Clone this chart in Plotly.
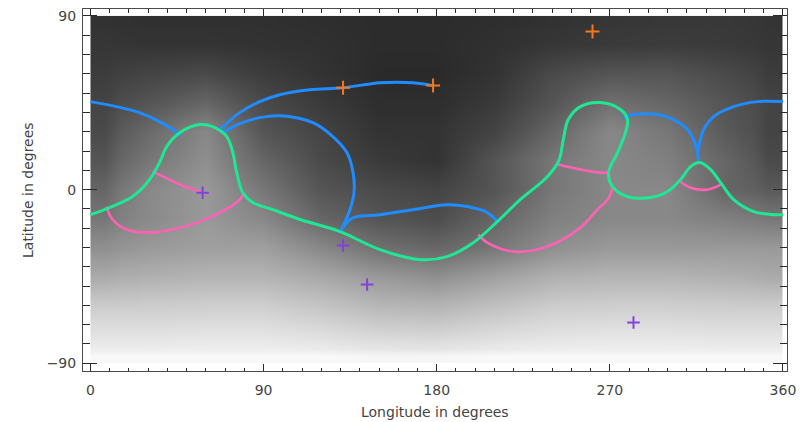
import plotly.graph_objects as go

# ---- background field (grey level 0-255), rows from north (90) to south (-90) ----
grid_lons = [0, 30, 60, 90, 120, 150, 180, 210, 240, 270, 300, 330, 360]
grid_lats = [90, 75, 60, 45, 30, 15, 0, -15, -30, -45, -60, -75, -90]
field = [
    [50, 48, 48, 48, 46, 44, 44, 46, 50, 54, 56, 56, 52],
    [54, 52, 52, 50, 48, 44, 44, 48, 54, 58, 60, 58, 54],
    [60, 68, 74, 60, 51, 42, 42, 51, 74, 85, 85, 74, 60],
    [68, 85, 102, 74, 58, 46, 46, 58, 85, 112, 102, 85, 68],
    [74, 106, 136, 85, 68, 51, 51, 68, 102, 136, 119, 90, 68],
    [85, 119, 143, 102, 74, 58, 51, 85, 119, 136, 128, 102, 74],
    [102, 136, 153, 119, 85, 74, 68, 85, 119, 136, 136, 102, 90],
    [119, 138, 153, 136, 102, 85, 77, 102, 128, 136, 136, 128, 119],
    [143, 153, 159, 159, 136, 112, 102, 119, 143, 153, 153, 153, 153],
    [170, 176, 180, 180, 168, 153, 143, 160, 176, 180, 180, 176, 170],
    [204, 204, 206, 206, 196, 182, 180, 192, 204, 206, 206, 204, 204],
    [226, 226, 228, 228, 222, 214, 212, 220, 226, 228, 228, 226, 226],
    [248, 248, 248, 248, 248, 246, 246, 248, 248, 248, 248, 248, 248],
]

# ---- open field lines (blue) ----
blue_west_lon = [0, 13.5, 25.5, 35.9, 44.8, 46.4]
blue_west_lat = [45.6, 43, 39.9, 35.2, 29.5, 27.5]
blue_north_lon = [67.2, 77.6, 88, 98.4, 114, 131.3, 150.5, 167.7, 178.1]
blue_north_lat = [31.1, 39.9, 45.6, 49.2, 51.8, 52.8, 55.4, 55.4, 53.9]
blue_loop_lon = [68.8, 77.6, 88, 98.4, 115.6, 126, 133.3, 136.5, 137, 134.9, 132.3, 130.2]
blue_loop_lat = [29.5, 34.2, 37.3, 38.3, 34.7, 27.5, 19.2, 8.8, -1.6, -10.4, -16.6, -21.2]
blue_south_lon = [130.2, 134.9, 138.5, 150.5, 167.7, 185.4, 195.8, 206.3, 212]
blue_south_lat = [-21.2, -15.5, -14, -13, -10.4, -7.8, -8.8, -11.9, -17.1]
blue_east_loop_lon = [276.6, 282.3, 294.8, 303.1, 310.4, 313.5, 315.6, 316.1]
blue_east_loop_lat = [37.3, 38.9, 38.9, 36.3, 31.1, 25.9, 19.2, 14]
blue_east_lon = [315.6, 318.8, 324, 334.4, 346.9, 360]
blue_east_lat = [19.2, 31.1, 37.8, 43, 45.6, 45.6]

# ---- neutral line (green) ----
green_lon = [0, 9.9, 21.9, 30.7, 35.9, 39.6, 46.4, 56.8, 63.5, 70.8, 74, 76, 79.2,
             84.4, 94.8, 108.9, 129.7, 150.5, 171.4, 185.4, 199, 211.5, 223.4,
             237.5, 243.5, 245.8, 248.4, 254.7, 265.1, 275.5, 279.2, 278.1, 274,
             269.3, 271.4, 279.2, 291.1, 300, 306.8, 312, 316.7, 322.4, 327.6,
             334.4, 344.8, 355.2, 360]
green_lat = [-13, -9.3, -3.6, 5.2, 14, 22.3, 29.5, 33.7, 32.6, 27.5, 19.2, 8.8, -1.6,
             -6.7, -10.4, -15.5, -21.8, -31.1, -36.3, -34.7, -27.5, -16.6, -5.2,
             6.7, 15, 25.9, 36.3, 43, 45.1, 41.5, 36.3, 29.5, 19.2,
             8.8, 1.6, -3.6, -4.1, -1, 5.2, 11.9, 14, 10.4, 3.6,
             -5.2, -11.4, -13, -13]

# ---- pink segments ----
pink_a_lon = [32.3, 41.1, 49, 56.8]
pink_a_lat = [9.3, 5.2, 1.6, -1]
pink_b_lon = [8.3, 11.5, 18.8, 30.7, 42.7, 56.8, 67.2, 76, 80.2]
pink_b_lat = [-8.8, -15.5, -20.7, -22.3, -20.7, -16.6, -11.9, -6.7, -1.6]
pink_c_lon = [201.6, 206.3, 219.8, 237.5, 254.7, 263.5, 268.8, 271.9]
pink_c_lat = [-23.3, -27.5, -32.1, -29.5, -19.7, -10.4, -5.2, 2.1]
pink_d_lon = [243.2, 254.7, 265.1, 268.8]
pink_d_lat = [13, 10.4, 8.8, 8.8]
pink_e_lon = [306.8, 312, 320.8, 327.6]
pink_e_lat = [4.1, 1, 0, 2.6]

# ---- point sources ----
orange_lon = [131.3, 178.1, 261]
orange_lat = [52.8, 53.9, 81.9]
purple_lon = [58.3, 131.3, 143.8, 282.3]
purple_lat = [-1.6, -29, -49.2, -68.9]

# ---- tick labels ----
lon_ticks = [0, 90, 180, 270, 360]
lat_ticks = [-90, 0, 90]

BLUE = "#1f8cff"
GREEN = "#1ee894"
PINK = "#ff62b4"
ORANGE = "#f27a1c"
PURPLE = "#8442dc"
INK = "#444444"


def edges(centres, lo, hi):
    mids = [(a + b) / 2 for a, b in zip(centres[:-1], centres[1:])]
    return [lo] + mids + [hi]


lat_up = grid_lats[::-1]
field_up = field[::-1]

fig = go.Figure()
fig.add_trace(go.Heatmap(
    x=edges(grid_lons, 0, 360),
    y=edges(lat_up, -90, 90),
    z=field_up,
    zmin=0, zmax=255,
    colorscale=[[0, "rgb(0,0,0)"], [1, "rgb(255,255,255)"]],
    zsmooth="best",
    showscale=False,
    hoverinfo="skip",
))


def curve(lon, lat, color, width=3):
    fig.add_trace(go.Scatter(
        x=lon, y=lat, mode="lines",
        line=dict(color=color, width=width, shape="spline", smoothing=1.0),
        hoverinfo="skip", showlegend=False,
    ))


for lon, lat in [(pink_a_lon, pink_a_lat), (pink_b_lon, pink_b_lat),
                 (pink_c_lon, pink_c_lat), (pink_d_lon, pink_d_lat),
                 (pink_e_lon, pink_e_lat)]:
    curve(lon, lat, PINK, 2.6)

for lon, lat in [(blue_west_lon, blue_west_lat), (blue_north_lon, blue_north_lat),
                 (blue_loop_lon, blue_loop_lat), (blue_south_lon, blue_south_lat),
                 (blue_east_loop_lon, blue_east_loop_lat), (blue_east_lon, blue_east_lat)]:
    curve(lon, lat, BLUE, 3)

curve(green_lon, green_lat, GREEN, 3)

for lon, lat, color, size in [(orange_lon, orange_lat, ORANGE, 10),
                              (purple_lon, purple_lat, PURPLE, 9)]:
    fig.add_trace(go.Scatter(
        x=lon, y=lat, mode="markers",
        marker=dict(symbol="cross-thin", size=size, line=dict(color=color, width=2)),
        hoverinfo="skip", showlegend=False,
    ))

axis_common = dict(
    showline=True, linecolor="#4a4a4a", linewidth=1, mirror="allticks",
    ticks="inside", tickcolor="#2a2a2a", tickwidth=1,
    showgrid=False, zeroline=False,
    tickfont=dict(family="DejaVu Sans", size=14, color=INK),
)

fig.update_xaxes(
    range=[-3.9, 362.1], tickmode="array", tickvals=lon_ticks,
    ticktext=[str(v) for v in lon_ticks], ticklen=7, ticklabelstandoff=6,
    minor=dict(tick0=0, dtick=10, ticks="inside", ticklen=3.5,
               tickcolor="#2a2a2a", showgrid=False),
    **axis_common,
)
fig.update_yaxes(
    range=[-94, 93.6], tickmode="array", tickvals=lat_ticks,
    ticktext=["\u221290", "0", "90"], ticklen=14, ticklabelstandoff=3,
    minor=dict(tick0=0, dtick=10, ticks="inside", ticklen=7,
               tickcolor="#2a2a2a", showgrid=False),
    **axis_common,
)

fig.update_layout(
    width=808, height=422,
    margin=dict(l=83, r=21, t=9, b=51),
    paper_bgcolor="white", plot_bgcolor="white",
    showlegend=False,
    annotations=[
        dict(text="Longitude in degrees", xref="paper", yref="paper",
             x=0.5, y=0, yanchor="middle", yshift=-41, showarrow=False,
             font=dict(family="DejaVu Sans", size=14, color=INK)),
        dict(text="Latitude in degrees", xref="paper", yref="paper",
             x=0, y=0.5, xanchor="center", xshift=-55, textangle=-90,
             showarrow=False,
             font=dict(family="DejaVu Sans", size=14, color=INK)),
    ],
)

fig.write_html("out.html")
